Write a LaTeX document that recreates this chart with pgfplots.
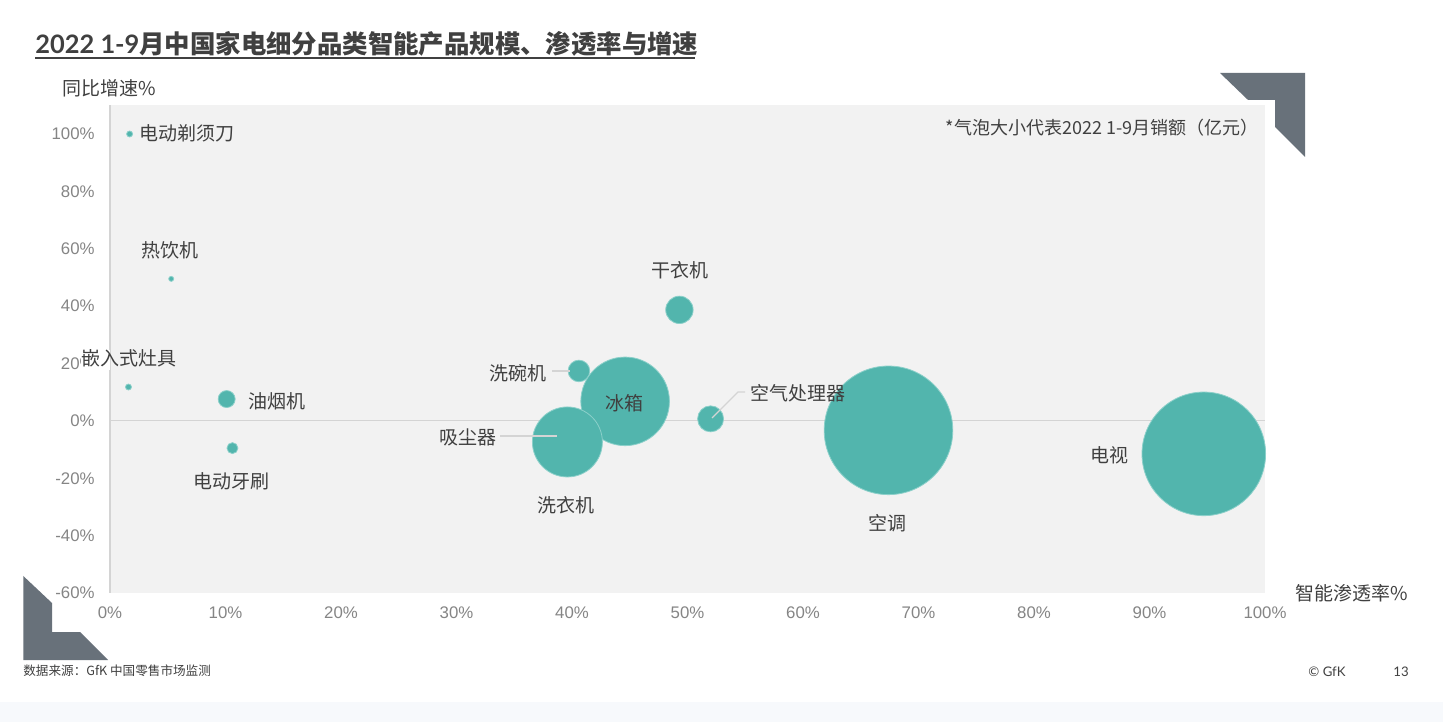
\documentclass[border=0pt]{standalone}
\usepackage{fontspec}
\usepackage{pgfplots}
\usepackage{pgfplotstable}
\pgfplotsset{compat=1.18}
\setmainfont{Noto Sans CJK SC}
\newfontfamily\lib{Liberation Sans}
\newfontfamily\lato{Lato}
\definecolor{bub}{HTML}{52B5AD}
\definecolor{bubedge}{HTML}{8CD0CA}
\definecolor{deco}{HTML}{68717A}
\definecolor{txt}{HTML}{404040}
\definecolor{tickc}{HTML}{858585}
\definecolor{bg}{HTML}{F2F2F2}
\definecolor{band}{HTML}{F7F9FC}
\definecolor{linec}{HTML}{D4D4D4}

% x: smart penetration (%), y: YoY growth (%), r: bubble radius (relative size, ~ sales)
\pgfplotstableread{
x     y      r
1.7   100    3
5.3   49.5   2.5
1.6   11.8   3
10.1  7.6    8.5
10.6  -9.5   5.5
49.3  38.7   13.7
40.6  17.4   10.8
52.0  0.7    13
38.7  -5.2   10
44.6  6.8    44.3
39.6  -7.35  35
67.4  -3.3   64.3
94.7  -11.5  61.8
}\bubbles

\begin{document}
\begin{tikzpicture}
\path[use as bounding box] (0,0) rectangle (721.5pt,361pt);
\fill[white] (0,0) rectangle (721.5pt,361pt);
\fill[band] (0,0) rectangle (721.5pt,10pt);

\begin{axis}[
  at={(55pt,64.5pt)}, anchor=south west,
  width=577.5pt, height=243.85pt, scale only axis,
  xmin=0, xmax=100, ymin=-60, ymax=110,
  axis line style={draw=none},
  axis background/.style={fill=bg},
  major tick length=0pt,
  xtick={0,10,...,100},
  xticklabels={0\%,10\%,20\%,30\%,40\%,50\%,60\%,70\%,80\%,90\%,100\%},
  ytick={-60,-40,...,100},
  yticklabels={-60\%,-40\%,-20\%,0\%,20\%,40\%,60\%,80\%,100\%},
  ticklabel style={font=\lib\fontsize{8.4}{10}\selectfont, text=tickc, inner sep=0pt},
  xticklabel style={anchor=north, yshift=-6.8pt},
  yticklabel style={anchor=east, xshift=-7.5pt},
  clip=false,
]
\addplot[draw=linec, line width=0.6pt] coordinates {(0,0) (100,0)};
\draw[linec, line width=0.6pt] (rel axis cs:0,0) -- (rel axis cs:0,1);
\addplot[scatter, only marks, mark=*,
  scatter/use mapped color={draw=bubedge, fill=bub},
  visualization depends on={\thisrow{r} \as \rr},
  scatter/@pre marker code/.append style={/tikz/mark size=0.5*\rr},
  mark options={line width=0.4pt}] table[x=x,y=y] {\bubbles};
\end{axis}

\begin{scope}[x=0.5pt,y=-0.5pt,shift={(0pt,361pt)}]
  \tikzset{lab/.style={font=\fontsize{9.5}{11}\selectfont, text=txt, inner sep=0pt}}
  % decorations
  \fill[deco] (1220,73)--(1305,73)--(1305,157)--(1275,127)--(1275,100)--(1248,100)--cycle;
  \fill[deco] (23.3,576)--(23.3,660)--(108,660)--(80,632)--(52,632)--(52,603)--cycle;
  % title
  \node[anchor=base west, inner sep=0pt, text=txt] at (35,54)
    {\fontsize{12.7}{15}\selectfont\bfseries{\lato\bfseries 2022 1-9}月中国家电细分品类智能产品规模、渗透率与增速};
  \draw[txt, line width=1pt] (35,58.5) -- (695,58.5);
  % axis titles
  \node[lab, anchor=west] at (62,88) {同比增速\%};
  \node[lab, anchor=west] at (1295,593) {智能渗透率\%};
  \node[anchor=east, inner sep=0pt, text=txt, font=\fontsize{9}{11}\selectfont] at (1259,128)
    {*气泡大小代表2022 1-9月销额（亿元）};
  % leaders
  \draw[linec, line width=0.6pt] (552,371) -- (570,371);
  \draw[linec, line width=0.6pt] (500,436) -- (557,436);
  \draw[linec, line width=0.6pt] (745,392) -- (738,392) -- (712,418);
  % labels
  \fill[white] (81,350) rectangle (109.5,370);
  \node[lab, anchor=west] at (139,133) {电动剃须刀};
  \node[lab] at (170,250) {热饮机};
  \node[lab] at (129,358) {嵌入式灶具};
  \node[lab, anchor=west] at (248,401) {油烟机};
  \node[lab] at (231,481) {电动牙刷};
  \node[lab] at (680,270) {干衣机};
  \node[lab] at (518,373) {洗碗机};
  \node[lab] at (624,403) {冰箱};
  \node[lab] at (468,437) {吸尘器};
  \node[lab] at (566,505) {洗衣机};
  \node[lab] at (798,393) {空气处理器};
  \node[lab] at (887,523) {空调};
  \node[lab] at (1109,455) {电视};
  % footer
  \node[anchor=west, inner sep=0pt, text=txt, font=\fontsize{6.3}{8}\selectfont] at (23,671)
    {数据来源：GfK 中国零售市场监测};
  \node[anchor=west, inner sep=0pt, text=txt, font=\lato\fontsize{6.6}{8}\selectfont] at (1308,672) {© GfK};
  \node[anchor=west, inner sep=0pt, text=txt, font=\lato\fontsize{6.6}{8}\selectfont] at (1393,672) {13};
\end{scope}
\end{tikzpicture}
\end{document}
